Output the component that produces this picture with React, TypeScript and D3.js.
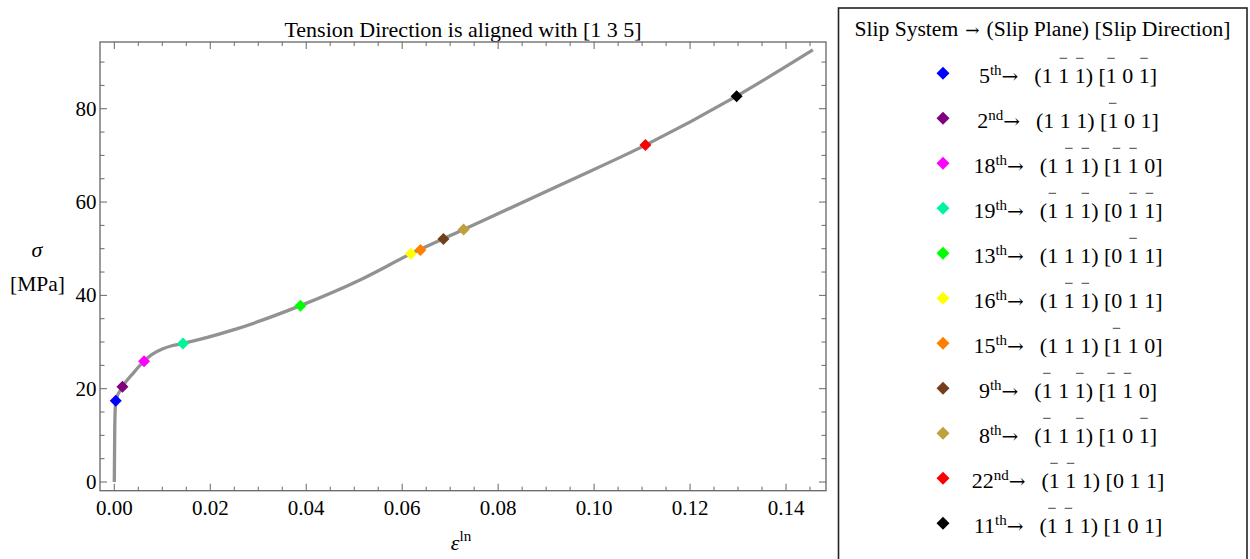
import React, { useRef, useEffect } from "react";
import * as d3 from "d3";

// curve
const strainPts = [0, 0.0001, 0.0003, 0.0017, 0.004, 0.0062, 0.0078, 0.01, 0.012, 0.0143, 0.0248, 0.0388, 0.0512, 0.0618, 0.0728, 0.0943, 0.1107, 0.1297, 0.1456];
const stressPts = [0, 12, 17.4, 20.4, 23.4, 25.9, 27.3, 28.5, 29.2, 29.7, 32.6, 37.8, 43.3, 48.9, 54.1, 64.3, 72.2, 82.7, 92.6];

// slip system activation points
const slipNumbers = ["5", "2", "18", "19", "13", "16", "15", "9", "8", "22", "11"];
const slipSuffix = ["th", "nd", "th", "th", "th", "th", "th", "th", "th", "nd", "th"];
const slipStrain = [0.0003, 0.0017, 0.0062, 0.0143, 0.0388, 0.0618, 0.0638, 0.0686, 0.0728, 0.1107, 0.1297];
const slipStress = [17.4, 20.4, 25.9, 29.7, 37.8, 48.9, 49.7, 52.1, 54.1, 72.2, 82.7];
const slipColors = ["#0000ff", "#800080", "#ff00ff", "#00f59a", "#00ff00", "#ffff00", "#ff8000", "#723f1c", "#c0a03c", "#ff0000", "#000000"];
const slipPlanes = [
	[1, -1, -1], [1, 1, 1], [1, -1, -1], [-1, 1, -1], [1, 1, 1], [1, -1, -1],
	[1, 1, 1], [-1, 1, -1], [-1, 1, -1], [-1, -1, 1], [-1, -1, 1],
];
const slipDirections = [
	[-1, 0, -1], [-1, 0, 1], [-1, -1, 0], [0, -1, -1], [0, -1, 1], [0, 1, 1],
	[-1, 1, 0], [-1, -1, 0], [1, 0, -1], [0, 1, 1], [1, 0, 1],
];

const xTicks = [0, 0.02, 0.04, 0.06, 0.08, 0.1, 0.12, 0.14];
const yTicks = [0, 20, 40, 60, 80];

const FONT = "'Liberation Serif', 'Times New Roman', serif";
const ARROW_FONT = "'DejaVu Serif', serif";

const App = () => {
	const millerRefs = useRef([]);
	const barsRef = useRef();

	const width = 1250;
	const height = 559;
	const left = 100, right = 826, top = 42, bottom = 490.7;

	const x = d3.scaleLinear().domain([-0.00298, 0.14833]).range([left, right]);
	const y = d3.scaleLinear().domain([-1.86, 94.3]).range([bottom, top]);

	const line = d3
		.line()
		.x((d) => x(d[0]))
		.y((d) => y(d[1]))
		.curve(d3.curveMonotoneX);
	const curveData = strainPts.map((e, i) => [e, stressPts[i]]);

	const xMinor = d3.range(0, 30).map((i) => i * 0.005);
	const yMinor = d3.range(0, 19).map((i) => i * 5);

	const diamond = (cx, cy, r) =>
		`M${cx},${cy - r}L${cx + r},${cy}L${cx},${cy + r}L${cx - r},${cy}Z`;

	const rowY = (i) => 73.3 + i * 45;

	// overbars over the negative indices, placed from measured glyphs
	useEffect(() => {
		const g = d3.select(barsRef.current);
		g.selectAll("*").remove();
		slipNumbers.forEach((_, i) => {
			const el = millerRefs.current[i];
			if (!el) return;
			const signs = [...slipPlanes[i], ...slipDirections[i]];
			const idx = [1, 3, 5, 9, 11, 13];
			signs.forEach((s, k) => {
				if (s >= 0) return;
				const ext = el.getExtentOfChar(idx[k]);
				const by = rowY(i) + 10 - 25;
				g.append("line")
					.attr("x1", ext.x + 1.5)
					.attr("x2", ext.x + 9)
					.attr("y1", by)
					.attr("y2", by)
					.attr("stroke", "#444")
					.attr("stroke-width", 1);
			});
		});
	}, []);

	const frame = "#666";

	return (
		<div style={{ position: "absolute", left: 0, top: 0 }}>
			<svg width={width} height={height} style={{ display: "block", fontFamily: FONT }}>
				<rect width={width} height={height} fill="white" />

				{/* title */}
				<text x={(left + right) / 2} y={37} textAnchor="middle" fontSize={22}>
					Tension Direction is aligned with [1 3 5]
				</text>

				{/* curve */}
				<path d={line(curveData)} fill="none" stroke="#929292" strokeWidth={3.3} />

				{/* markers */}
				{slipStrain.map((e, i) => (
					<path key={i} d={diamond(x(e), y(slipStress[i]), 6)} fill={slipColors[i]} />
				))}

				{/* frame */}
				<rect x={left} y={top} width={right - left} height={bottom - top} fill="none" stroke={frame} strokeWidth={1.3} />
				{xMinor.map((v, i) => {
					const major = i % 4 === 0;
					const len = major ? 7 : 4;
					return (
						<g key={"xt" + i} stroke={frame} strokeWidth={1}>
							<line x1={x(v)} x2={x(v)} y1={bottom} y2={bottom - len} />
							<line x1={x(v)} x2={x(v)} y1={top} y2={top + len} />
						</g>
					);
				})}
				{yMinor.map((v, i) => {
					const major = i % 4 === 0;
					const len = major ? 7 : 4.5;
					return (
						<g key={"yt" + i} stroke={frame} strokeWidth={1}>
							<line x1={left} x2={left + len} y1={y(v)} y2={y(v)} />
							<line x1={right} x2={right - len} y1={y(v)} y2={y(v)} />
						</g>
					);
				})}
				{xTicks.map((v) => (
					<text key={"xl" + v} x={x(v)} y={515} textAnchor="middle" fontSize={21}>
						{v.toFixed(2)}
					</text>
				))}
				{yTicks.map((v) => (
					<text key={"yl" + v} x={96.5} y={y(v) + 7} textAnchor="end" fontSize={21}>
						{v}
					</text>
				))}

				{/* axis labels */}
				<text x={461} y={550} fontSize={22} textAnchor="middle">
					<tspan fontStyle="italic">ε</tspan>
					<tspan fontSize={15} dy={-9}>ln</tspan>
				</text>
				<text x={37} y={257} fontSize={22} fontStyle="italic" textAnchor="middle">σ</text>
				<text x={37.5} y={291} fontSize={21.5} textAnchor="middle">[MPa]</text>

				{/* legend */}
				<rect x={838.5} y={8} width={408.5} height={600} fill="none" stroke="#222" strokeWidth={1.6} />
				<text x={1042.5} y={36} textAnchor="middle" fontSize={21.6}>
					<tspan>Slip System</tspan>
					<tspan dx={7} fontFamily={ARROW_FONT} fontSize={17}>→</tspan>
					<tspan dx={7}>(Slip Plane) [Slip Direction]</tspan>
				</text>
				{slipNumbers.map((n, i) => {
					const cy = rowY(i);
					const miller = `(${slipPlanes[i].map(Math.abs).join(" ")}) [${slipDirections[i].map(Math.abs).join(" ")}]`;
					return (
						<g key={"lg" + i}>
							<path d={diamond(943, cy, 6.5)} fill={slipColors[i]} />
							<text x={1068} y={cy + 10} textAnchor="middle" fontSize={22}>
								<tspan>{n}</tspan>
								<tspan fontSize={15} dy={-8}>{slipSuffix[i]}</tspan>
								<tspan dy={8} fontFamily={ARROW_FONT} fontSize={20}>→</tspan>
								<tspan dx={16} ref={(el) => (millerRefs.current[i] = el)}>{miller}</tspan>
							</text>
						</g>
					);
				})}
				<g ref={barsRef} />
			</svg>
		</div>
	);
};

export default App;
